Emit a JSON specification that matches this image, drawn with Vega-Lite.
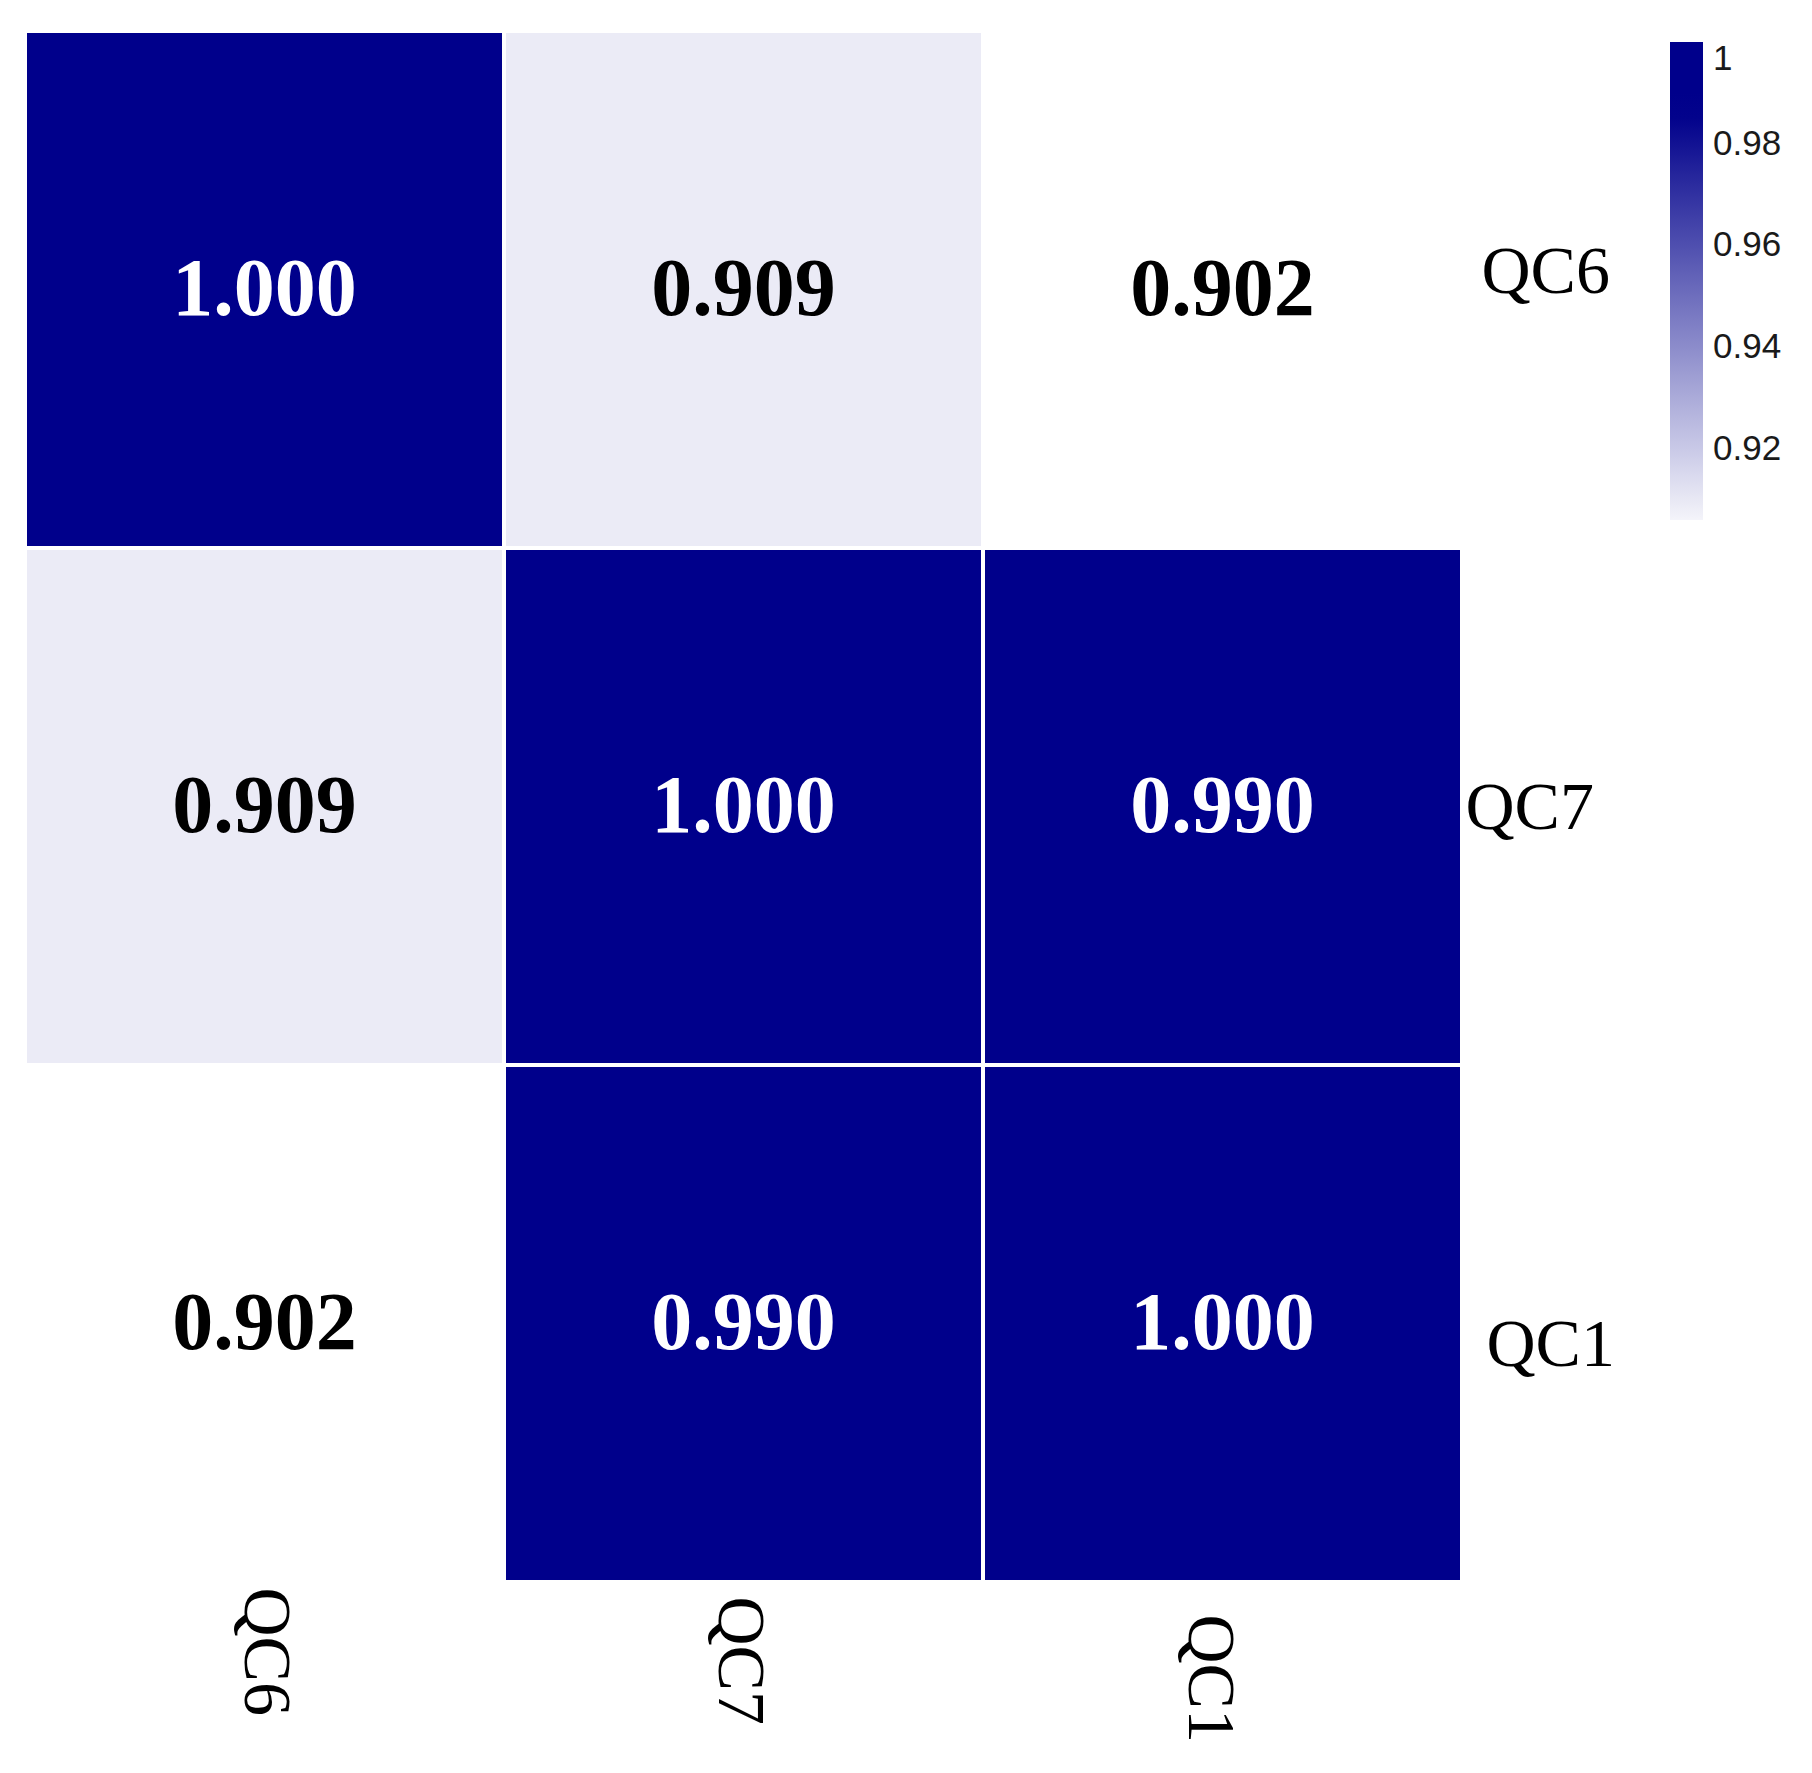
{
  "$schema": "https://vega.github.io/schema/vega-lite/v6.json",
  "width": 1437,
  "height": 1551,
  "padding": {"left": 23, "top": 29, "right": 0, "bottom": 0},
  "background": "white",
  "config": {"view": {"stroke": null}},
  "data": {
    "values": [
      {"row": "QC6", "col": "QC6", "r": 1.000},
      {"row": "QC6", "col": "QC7", "r": 0.909},
      {"row": "QC6", "col": "QC1", "r": 0.902},
      {"row": "QC7", "col": "QC6", "r": 0.909},
      {"row": "QC7", "col": "QC7", "r": 1.000},
      {"row": "QC7", "col": "QC1", "r": 0.990},
      {"row": "QC1", "col": "QC6", "r": 0.902},
      {"row": "QC1", "col": "QC7", "r": 0.990},
      {"row": "QC1", "col": "QC1", "r": 1.000}
    ]
  },
  "encoding": {
    "x": {
      "field": "col", "type": "nominal", "sort": ["QC6", "QC7", "QC1"],
      "scale": {"paddingInner": 0, "paddingOuter": 0},
      "axis": {
        "title": null, "domain": false, "ticks": false, "labelAngle": 90,
        "labelFont": "Liberation Serif", "labelFontSize": 68, "labelColor": "black",
        "labelPadding": {"expr": "datum.value == 'QC6' ? 5 : datum.value == 'QC7' ? 14 : 32"},
        "labelOffset": {"expr": "datum.value == 'QC1' ? -14 : datum.value == 'QC7' ? -5 : 0"}
      }
    },
    "y": {
      "field": "row", "type": "nominal", "sort": ["QC6", "QC7", "QC1"],
      "scale": {"paddingInner": 0, "paddingOuter": 0},
      "axis": {
        "orient": "right", "title": null, "domain": false, "ticks": false,
        "labelFont": "Liberation Serif", "labelFontSize": 68, "labelColor": "black",
        "labelPadding": {"expr": "datum.value == 'QC6' ? 19 : datum.value == 'QC7' ? 3 : 24"},
        "labelOffset": {"expr": "datum.value == 'QC6' ? -17 : datum.value == 'QC1' ? 22 : 2"}
      }
    }
  },
  "layer": [
    {
      "mark": {"type": "rect", "stroke": "white", "strokeWidth": 4},
      "encoding": {
        "fill": {
          "condition": {"test": "datum.r < 0.905", "value": "#ffffff"},
          "field": "r", "type": "quantitative",
          "scale": {"domain": [0.906, 0.986, 1], "range": ["#F4F4FA", "#00008B", "#00008B"], "interpolate": "rgb"},
          "legend": {
            "title": null, "orient": "none", "legendX": 1645, "legendY": 11,
            "direction": "vertical", "gradientLength": 478, "gradientThickness": 33,
            "values": [0.92, 0.94, 0.96, 0.98, 1],
            "labelExpr": "datum.value == 1 ? '1' : format(datum.value, '.2f')",
            "labelFont": "Liberation Sans", "labelFontSize": 35, "labelColor": "#1a1a1a", "labelOffset": 10,
            "gradientStrokeWidth": 0
          }
        }
      }
    },
    {
      "mark": {"type": "text", "font": "Liberation Serif", "fontSize": 82, "fontWeight": "bold", "baseline": "middle", "dy": 0},
      "encoding": {
        "text": {"field": "r", "type": "quantitative", "format": ".3f"},
        "color": {"condition": {"test": "datum.r > 0.95", "value": "white"}, "value": "black"}
      }
    }
  ]
}
